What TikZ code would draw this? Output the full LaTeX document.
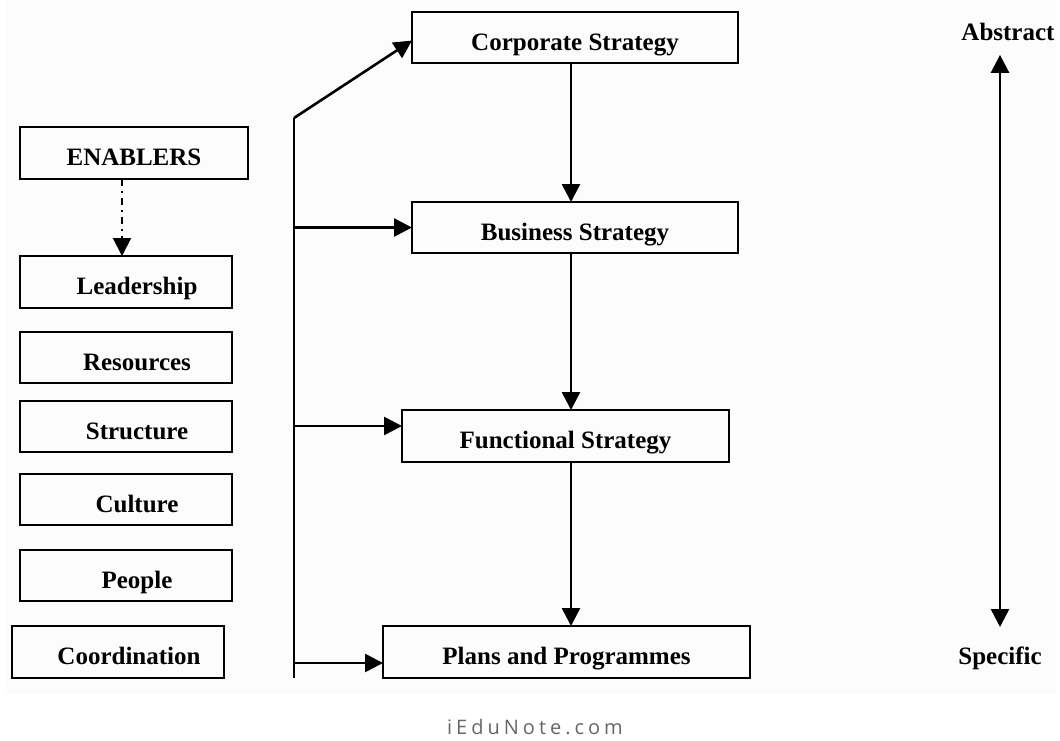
\documentclass[tikz,border=0pt]{standalone}
\usepackage{fontspec}
\setmainfont{Liberation Serif}
\newfontfamily\sitefont[LetterSpace=20]{Open Sans}
\usetikzlibrary{arrows.meta}
\usetikzlibrary{positioning}
\tikzset {
  syntax path/.style = {
    draw = black,
    line width = 2.6pt
  },
  % path style with an arrow head at the end
  arr/.style = {
    syntax path,
    -{Triangle[length=18pt,width=18pt]}
  },
  % path style with no arrows
  narr/.style = {
    syntax path
  },
  % dash-dot arrow out of the enablers box
  dd arr/.style = {
    arr,
    line width = 2pt,
    dash pattern = on 7pt off 5pt on 2pt off 5pt
  },
  % arrow heads at both ends
  both arr/.style = {
    syntax path,
    {Triangle[length=18pt,width=18pt]}-{Triangle[length=18pt,width=18pt]}
  }
}
\tikzset {
  box/.style = {
    draw = black,
    line width = 2.6pt,
    outer sep = 0pt,
    inner sep = 0pt,
    minimum height = 51pt,
    text height = 25pt,
    text depth = 0pt,
    font = \bfseries\fontsize{25}{30}\selectfont
  },
  % strategy level
  level/.style = {
    box
  },
  % enabler, text sits a little right of centre
  enabler/.style = {
    box,
    minimum width = 212pt,
    execute at begin node = \hspace*{22pt}
  },
  % scale words on the right
  scale word/.style = {
    inner sep = 0pt,
    text depth = 0pt,
    font = \bfseries\fontsize{25}{30}\selectfont
  }
}

\begin{document}
\begin{tikzpicture}[x=1pt, y=1pt]
    \useasboundingbox (0,0) rectangle (1060,-740);
    \fill[black!1.2] (5,0) rectangle (1056,-694);

    % strategy levels
    \node[level, minimum width=326pt] (corp) at (575,-37.5) {Corporate Strategy};
    \node[level, minimum width=326pt] (bus) [below=139pt of corp] {Business Strategy};
    \node[level, minimum width=327pt, minimum height=52pt] (func)
      [below=157pt of bus, xshift=-9.5pt] {Functional Strategy};
    \node[level, minimum width=367pt, minimum height=52pt] (plans)
      [below=164pt of func, xshift=1pt] {Plans and Programmes};

    % enablers
    \node[box, minimum width=228pt, minimum height=52pt] (enab) at (134,-153) {ENABLERS};
    \node[enabler, minimum height=52pt] (lead)
      [below=77pt of enab.south west, anchor=north west] {Leadership};
    \node[enabler] (res) [below=24pt of lead] {Resources};
    \node[enabler] (struct) [below=18pt of res] {Structure};
    \node[enabler] (cult) [below=22pt of struct] {Culture};
    \node[enabler] (people) [below=25pt of cult] {People};
    \node[enabler, minimum height=52pt] (coord) [below=25pt of people, xshift=-8pt] {Coordination};

    \coordinate (spine) at (294,-118);
    \coordinate (spine end) at (294,-678);
    \coordinate (flow) at (571,0);

    \draw[dd arr] ([xshift=-12pt]enab.south) -- ([xshift=-4pt]lead.north);

    \draw[narr] (spine) -- (spine end);
    \draw[arr] (spine) -- ([yshift=-3pt]corp.west);
    \draw[arr] (spine |- bus.west) -- (bus.west);
    \draw[arr] ([yshift=10pt]spine |- func.west) -- ([yshift=10pt]func.west);
    \draw[arr] ([yshift=-11pt]spine |- plans.west) -- ([yshift=-11pt]plans.west);

    \draw[arr] (corp.south -| flow) -- (bus.north -| flow);
    \draw[arr] (bus.south -| flow) -- (func.north -| flow);
    \draw[arr] (func.south -| flow) -- (plans.north -| flow);

    % abstract to specific scale
    \node[scale word] (abstract) at (1008,-32) {Abstract};
    \node[scale word] (specific) at (1000,-656) {Specific};
    \draw[both arr, shorten <=14pt, shorten >=20pt] (specific.north |- abstract.south) -- (specific.north);

    \node[text=black!60, font=\sitefont\fontsize{20}{24}\selectfont] (site) at (535,-727) {iEduNote.com};
\end{tikzpicture}
\end{document}
